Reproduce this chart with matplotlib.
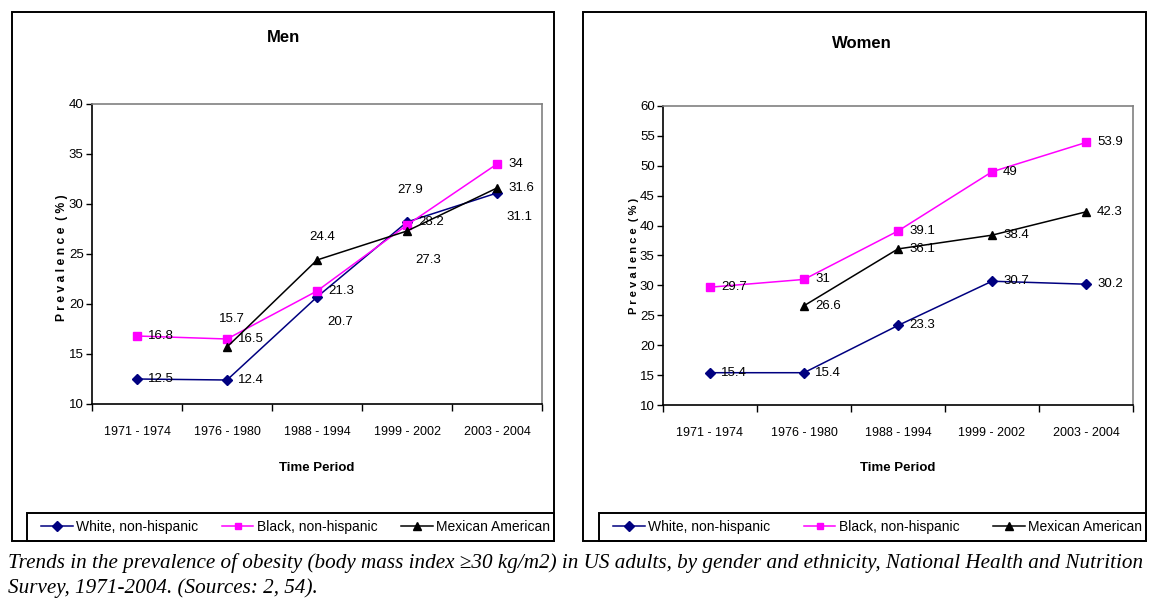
import numpy as np
import matplotlib
matplotlib.use("Agg")
import matplotlib.pyplot as plt
from matplotlib.patches import Rectangle
from matplotlib.lines import Line2D

plt.rcParams['font.family'] = ['Liberation Sans', 'DejaVu Sans']

periods = ["1971 - 1974", "1976 - 1980", "1988 - 1994", "1999 - 2002", "2003 - 2004"]
series_names = ["White, non-hispanic", "Black, non-hispanic", "Mexican American"]

men_white = [12.5, 12.4, 20.7, 28.2, 31.1]
men_black = [16.8, 16.5, 21.3, 27.9, 34.0]
men_mexican = [np.nan, 15.7, 24.4, 27.3, 31.6]

women_white = [15.4, 15.4, 23.3, 30.7, 30.2]
women_black = [29.7, 31.0, 39.1, 49.0, 53.9]
women_mexican = [np.nan, 26.6, 36.1, 38.4, 42.3]

men_yticks = [10, 15, 20, 25, 30, 35, 40]
women_yticks = [10, 15, 20, 25, 30, 35, 40, 45, 50, 55, 60]

colors = ["#000080", "#FF00FF", "#000000"]
markers = ["D", "s", "^"]
msizes = [5.2, 5.2, 6.2]

W, H = 1169, 599
fig = plt.figure(figsize=(W / 100, H / 100), dpi=100)


def fx(px):
    return px / W


def fy(py):
    return 1 - py / H


def axes_px(l, t, r, b):
    return fig.add_axes([fx(l), fy(b), (r - l) / W, (b - t) / H])


# label offsets (pixels) and alignment, per series per point; default right of point
DEFAULT = (11, 0, 'left')
men_label_style = [
    [DEFAULT, DEFAULT, (23, -25, 'center'), DEFAULT, (22, -24, 'center')],
    [DEFAULT, DEFAULT, DEFAULT, (3, 35, 'center'), DEFAULT],
    [None, (5, 28, 'center'), (5, 23, 'center'), (21, -29, 'center'), DEFAULT],
]
women_label_style = [[DEFAULT] * 5, [DEFAULT] * 5, [None] + [DEFAULT] * 4]


def fmt(v):
    return ("%g" % v)


def draw_panel(ax, data, yticks, styles, ylabel_size):
    x = np.arange(len(periods))
    for vals, c, m, ms, st in zip(data, colors, markers, msizes, styles):
        vals = np.array(vals, dtype=float)
        ax.plot(x, vals, color=c, lw=1.1, marker=m, ms=ms, mfc=c, mec=c, zorder=3)
        for xi, v, s in zip(x, vals, st):
            if np.isnan(v) or s is None:
                continue
            dx, dy, ha = s
            ax.annotate(fmt(v), (xi, v), xytext=(dx, dy), textcoords='offset pixels',
                        ha=ha, va='center', fontsize=9.5, color='black', zorder=4)
    ax.set_xlim(-0.5, len(periods) - 0.5)
    ax.set_ylim(yticks[0], yticks[-1])
    ax.set_yticks(yticks)
    ax.set_xticks(x)
    ax.set_xticklabels(periods)
    ax.set_xticks(np.arange(-0.5, len(periods)), minor=True)
    ax.tick_params(axis='x', which='major', length=0, labelsize=9, pad=16)
    ax.tick_params(axis='x', which='minor', length=5, width=1, direction='out')
    ax.tick_params(axis='y', length=4, width=1, direction='out', labelsize=9.5, pad=2)
    for side in ['top', 'right']:
        ax.spines[side].set_color('#808080')
        ax.spines[side].set_linewidth(1.2)
    for side in ['left', 'bottom']:
        ax.spines[side].set_color('black')
        ax.spines[side].set_linewidth(1.2)
    ax.set_ylabel("P r e v a l e n c e  ( % )", fontsize=ylabel_size, fontweight='bold')
    ax.set_xlabel("Time Period", fontsize=9.5, fontweight='bold')


ax1 = axes_px(92, 104, 542, 404)
draw_panel(ax1, [men_white, men_black, men_mexican], men_yticks, men_label_style, 8.7)
ax1.yaxis.set_label_coords(-0.053, 0.487)
ax1.xaxis.set_label_coords(0.5, -0.192)

ax2 = axes_px(663, 106, 1133, 405)
draw_panel(ax2, [women_white, women_black, women_mexican], women_yticks, women_label_style, 8.0)
ax2.yaxis.set_label_coords(-0.051, 0.5)
ax2.xaxis.set_label_coords(0.5, -0.192)

# panel borders and legend frames
for (l, t, r, b) in [(12, 12, 554, 541), (583, 12, 1146, 541),
                     (27, 513, 554, 541), (599, 513, 1146, 541)]:
    fig.patches.append(Rectangle((fx(l), fy(b)), (r - l) / W, (b - t) / H,
                                 transform=fig.transFigure, fill=False,
                                 edgecolor='black', lw=1.4))

fig.text(fx(284), fy(38), "Men", ha='center', va='center', fontsize=12, fontweight='bold')
fig.text(fx(862), fy(44), "Women", ha='center', va='center', fontsize=12, fontweight='bold')

handles = [Line2D([], [], color=c, marker=m, ms=ms * 0.9, mfc=c, mec=c, lw=1.1)
           for c, m, ms in zip(colors, markers, msizes)]

for (l, r) in [(35, 556), (607, 1148)]:
    leg = fig.legend(handles, series_names, loc='center left',
                     bbox_to_anchor=(fx(l), fy(541), (r - l) / W, 28 / H),
                     mode='expand', ncol=3, fontsize=10, frameon=False,
                     borderaxespad=0, handlelength=2.3,
                     handletextpad=0.25, borderpad=0.4)

cap_font = dict(family=['Liberation Serif', 'DejaVu Serif'], style='italic', fontsize=15.25)
fig.text(fx(8), fy(563), "Trends in the prevalence of obesity (body mass index \u226530 kg/m2) in US adults, "
         "by gender and ethnicity, National Health and Nutrition", ha='left', va='center', **cap_font)
fig.text(fx(8), fy(588), "Survey, 1971-2004. (Sources: 2, 54).", ha='left', va='center', **cap_font)

fig.savefig("out.png", dpi=100)
